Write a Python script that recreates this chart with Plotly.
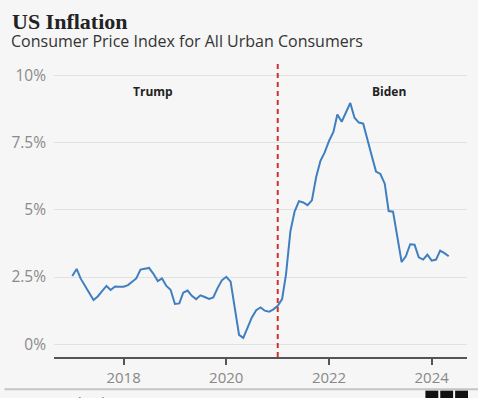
import pandas as pd
import plotly.graph_objects as go

# ---- data (12-month CPI change, %, monthly from Jan 2017) ----
start_month = "2017-01-01"
cpi_2017 = [2.54, 2.80, 2.45, 2.20, 1.92, 1.65, 1.78, 1.98, 2.17, 2.02, 2.15, 2.14]
cpi_2018 = [2.14, 2.20, 2.31, 2.45, 2.78, 2.81, 2.84, 2.62, 2.35, 2.45, 2.17, 2.03]
cpi_2019 = [1.50, 1.52, 1.92, 2.00, 1.80, 1.68, 1.82, 1.76, 1.69, 1.74, 2.10, 2.38]
cpi_2020 = [2.51, 2.33, 1.43, 0.35, 0.24, 0.64, 1.00, 1.27, 1.37, 1.25, 1.21, 1.30]
cpi_2021 = [1.43, 1.68, 2.60, 4.20, 4.93, 5.32, 5.27, 5.17, 5.35, 6.21, 6.82, 7.13]
cpi_2022 = [7.56, 7.89, 8.54, 8.27, 8.60, 8.97, 8.42, 8.24, 8.20, 7.65, 7.00, 6.42]
cpi_2023 = [6.33, 5.97, 4.95, 4.93, 4.00, 3.06, 3.27, 3.72, 3.70, 3.23, 3.15, 3.33]
cpi_2024 = [3.11, 3.15, 3.48, 3.39, 3.27]

values = cpi_2017 + cpi_2018 + cpi_2019 + cpi_2020 + cpi_2021 + cpi_2022 + cpi_2023 + cpi_2024
months = pd.date_range(start_month, periods=len(values), freq="MS")

y_ticks = [0, 2.5, 5, 7.5, 10]
y_labels = ["0%", "2.5%", "5%", "7.5%", "10%"]
x_ticks = ["2018-01-01", "2020-01-01", "2022-01-01", "2024-01-01"]
x_labels = ["2018", "2020", "2022", "2024"]
term_change = "2021-01-01"
presidents = ["Trump", "Biden"]
president_x = ["2018-07-30", "2023-03-01"]

# ---- layout helpers (pixels -> paper) ----
W, H = 478, 398
L, R, T, B = 50, 11, 62, 38
PW, PH = W - L - R, H - T - B


def xp(px):
    return (px - L) / PW


def yp(py):
    return (H - B - py) / PH


fig = go.Figure()
fig.add_trace(go.Scatter(
    x=months, y=values, mode="lines",
    line=dict(color="#3f7fc0", width=2),
    hoverinfo="skip", showlegend=False,
))

annotations = [
    dict(text="US Inflation", x=xp(6), y=yp(21), xref="paper", yref="paper",
         xanchor="left", yanchor="middle", showarrow=False,
         font=dict(family="Liberation Serif", size=22, color="#222222", weight="bold")),
    dict(text="Consumer Price Index for All Urban Consumers", x=xp(5), y=yp(41),
         xref="paper", yref="paper", xanchor="left", yanchor="middle", showarrow=False,
         font=dict(family="Open Sans", size=16, color="#333333")),
    dict(text="Source: Federal Reserve", x=xp(5), y=yp(394), xref="paper", yref="paper",
         xanchor="left", yanchor="top", showarrow=False,
         font=dict(family="Open Sans", size=13, color="#666666")),
]
for name, px_date in zip(presidents, president_x):
    annotations.append(dict(
        text=name, x=px_date, y=yp(92), xref="x", yref="paper",
        xanchor="center", yanchor="middle", showarrow=False,
        font=dict(family="Open Sans", size=12, color="#222222", weight="bold")))

shapes = [
    dict(type="line", x0=term_change, x1=term_change, xref="x", y0=0, y1=1, yref="paper",
         line=dict(color="#d0312d", width=2, dash="5px,4px")),
    dict(type="line", x0=xp(0), x1=xp(W), xref="paper", y0=yp(392.5), y1=yp(392.5),
         yref="paper", line=dict(color="#c4c4c4", width=2)),
]
for i in range(3):
    x0 = 425 + i * 15
    shapes.append(dict(type="rect", xref="paper", yref="paper",
                       x0=xp(x0), x1=xp(x0 + 13), y0=yp(407), y1=yp(394),
                       fillcolor="#111111", line=dict(width=0)))

fig.update_layout(
    width=W, height=H,
    margin=dict(l=L, r=R, t=T, b=B, pad=0),
    paper_bgcolor="#f6f6f6", plot_bgcolor="#f6f6f6",
    font=dict(family="Open Sans", color="#888888"),
    annotations=annotations, shapes=shapes,
    xaxis=dict(
        type="date", range=["2016-08-24", "2024-09-08"],
        tickvals=x_ticks, ticktext=x_labels,
        ticks="outside", ticklen=6, tickwidth=1.5, tickcolor="#555555",
        showline=True, linecolor="#555555", linewidth=2,
        showgrid=False, zeroline=False,
        tickfont=dict(size=15, color="#888888"),
        fixedrange=True,
    ),
    yaxis=dict(
        range=[-0.47, 10.49],
        tickvals=y_ticks, ticktext=y_labels,
        showgrid=True, gridcolor="#e2e2e2", gridwidth=1,
        zeroline=False, showline=False, ticks="",
        ticklabelstandoff=7,
        tickfont=dict(size=15.5, color="#8a8a8a"),
        fixedrange=True,
    ),
)

fig.write_html(
    "out.html",
    config={"displayModeBar": False},
    post_script="document.body.style.margin='0';document.body.style.background='#f6f6f6';",
)
